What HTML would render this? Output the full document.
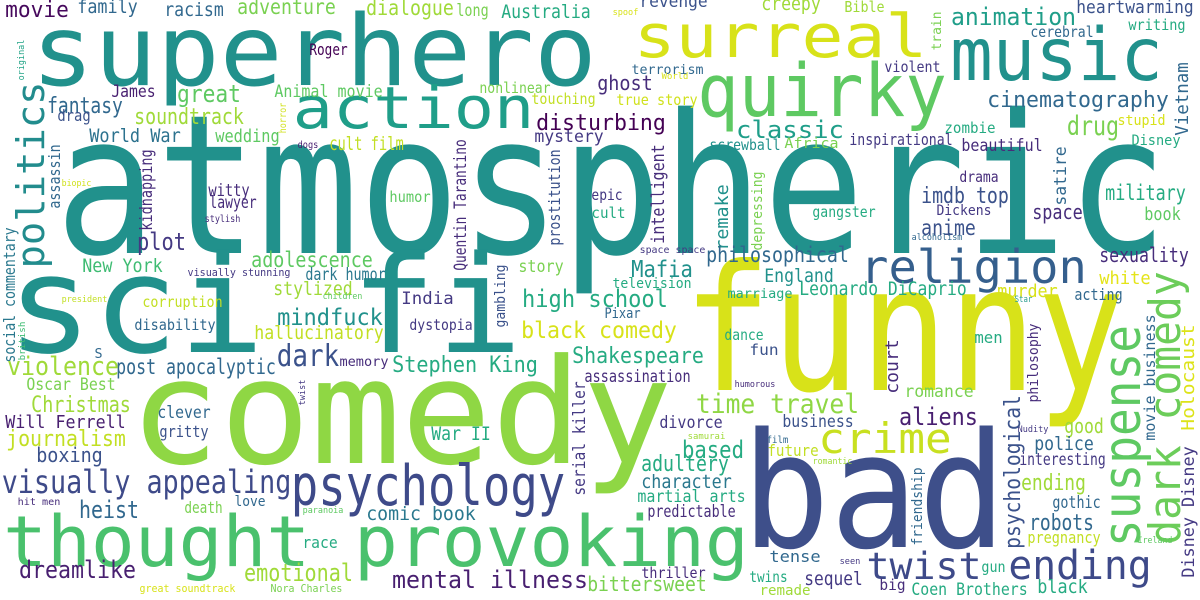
<!DOCTYPE html>
<html><head><meta charset="utf-8"><style>
html,body{margin:0;padding:0;background:#fff;}
svg{display:block;}
text{font-family:"DejaVu Sans Mono","Liberation Mono",monospace;}
</style></head><body>
<svg id="cloud" width="1200" height="600" viewBox="0 0 1200 600" xmlns="http://www.w3.org/2000/svg">
<rect width="1200" height="600" fill="#ffffff"/>
</svg>
<script>
// [word, x, baseline, inkLength, fontSize, color, vertical]
const terms = [
["atmospheric",63,253,1097,194,"#21918c",0],
["superhero",35,85,558,98,"#21918c",0],
["sci fi",12,352,505,135,"#21918c",0],
["comedy",135,463,532,146,"#8fd744",0],
["funny",690,390,428,175,"#d8e219",0],
["bad",748,547,252,160,"#3e4f8a",0],
["thought provoking",6,566,740,70,"#4ac16d",0],
["psychology",293,505,270,56,"#3e4a89",0],
["surreal",636,57,289,60,"#d8e219",0],
["quirky",700,116,244,73,"#5ec962",0],
["music",953,80,207,73,"#21918c",0],
["action",295,128,237,58,"#1f9e89",0],
["religion",862,283,223,46,"#355f8d",0],
["crime",820,453,130,42,"#c8e020",0],
["twist",868,579,112,37,"#3e4a89",0],
["ending",1010,579,140,40,"#3e4a89",0],
["visually appealing",3,493,287,32,"#3e4a89",0],
["politics",44,267,184,38,"#228c8d",1],
["suspense",1140,545,218,52,"#5ec962",1],
["dark comedy",1180,543,270,44,"#6ccd5a",1],
["movie",6,17,62,22,"#46085c",0],
["family",78,13,59,19,"#31688e",0],
["racism",165,16,58,19,"#31688e",0],
["adventure",238,14,97,21,"#7ad151",0],
["dialogue",367,15,86,21,"#a0da39",0],
["long",457,16,31,17,"#7ad151",0],
["Australia",502,18,88,19,"#25ab82",0],
["spoof",613,15,25,9,"#d8e219",0],
["revenge",640,7,67,17,"#3b528b",0],
["creepy",762,10,58,19,"#a0da39",0],
["Bible",845,12,39,15,"#a0da39",0],
["animation",952,25,123,24,"#1f9e89",0],
["heartwarming",1077,13,116,18,"#3b528b",0],
["writing",1129,30,56,15,"#25ab82",0],
["cerebral",1031,37,62,15,"#31688e",0],
["train",941,50,38,13,"#7ad151",1],
["original",24,80,40,9,"#20a386",1],
["Roger",310,55,37,16,"#440154",0],
["violent",885,72,55,15,"#443983",0],
["terrorism",632,74,71,13,"#31688e",0],
["World",662,79,26,9,"#d8e219",0],
["ghost",598,90,54,20,"#472d7b",0],
["nonlinear",480,93,70,15,"#7ad151",0],
["James",112,97,43,17,"#481f70",0],
["Animal movie",275,97,107,17,"#5ec962",0],
["great",178,102,62,24,"#5ec962",0],
["touching",532,104,63,15,"#c2df23",0],
["true story",617,105,80,15,"#d0e11c",0],
["cinematography",988,107,180,22,"#31688e",0],
["fantasy",48,113,74,22,"#31688e",0],
["drag",58,121,32,16,"#3b528b",0],
["soundtrack",135,124,108,22,"#a0da39",0],
["stupid",1118,125,47,14,"#d8e219",0],
["disturbing",537,130,128,22,"#440154",0],
["horror",286,133,30,10,"#d0e11c",1],
["zombie",945,133,50,15,"#25ab82",0],
["Vietnam",1188,135,72,18,"#31688e",1],
["drug",1068,135,50,27,"#7ad151",0],
["classic",737,138,106,24,"#1f9e89",0],
["World War",90,142,90,19,"#2c728e",0],
["wedding",216,142,63,18,"#5ec962",0],
["mystery",535,142,68,17,"#443983",0],
["inspirational",850,145,102,16,"#443983",0],
["Disney",1132,145,48,14,"#25ab82",0],
["dogs",298,148,20,10,"#481f70",0],
["Africa",785,148,53,14,"#7ad151",0],
["cult film",330,150,73,19,"#c2df23",0],
["screwball",710,150,70,15,"#21918c",0],
["beautiful",962,151,80,17,"#472d7b",0],
["assassin",60,208,63,16,"#31688e",1],
["kidnapping",152,230,80,17,"#472d7b",1],
["Quentin Tarantino",466,270,130,17,"#472d7b",1],
["prostitution",560,245,95,16,"#3b528b",1],
["intelligent",664,243,98,18,"#472d7b",1],
["remake",728,250,65,18,"#21918c",1],
["depressing",762,250,78,14,"#7ad151",1],
["satire",1066,205,58,17,"#31688e",1],
["drama",960,182,38,15,"#472d7b",0],
["biopic",62,186,29,9,"#d0e11c",0],
["witty",209,196,40,17,"#472d7b",0],
["epic",592,200,30,15,"#443983",0],
["military",1106,200,79,21,"#25ab82",0],
["humor",390,202,40,15,"#5ec962",0],
["imdb top",922,203,86,22,"#3b528b",0],
["lawyer",210,208,46,17,"#472d7b",0],
["Dickens",937,215,54,14,"#443983",0],
["gangster",813,217,62,15,"#25ab82",0],
["cult",592,218,33,15,"#25ab82",0],
["space",1033,219,49,20,"#472d7b",0],
["book",1145,220,35,18,"#5ec962",0],
["stylish",205,222,35,10,"#472d7b",0],
["anime",922,235,53,21,"#3b528b",0],
["alcoholism",912,240,50,9,"#31688e",0],
["plot",138,250,47,24,"#443983",0],
["space space",640,253,65,10,"#443983",0],
["philosophical",707,262,141,21,"#31688e",0],
["sexuality",1100,262,88,20,"#472d7b",0],
["adolescence",252,267,120,21,"#5ec962",0],
["social commentary",15,362,134,16,"#2a788e",1],
["New York",83,272,79,19,"#3fbc73",0],
["story",519,272,44,17,"#7ad151",0],
["visually stunning",188,276,102,11,"#443983",0],
["Mafia",632,277,60,23,"#21918c",0],
["dark humor",306,280,79,17,"#2a788e",0],
["England",765,282,68,19,"#21918c",0],
["white",1100,284,50,18,"#e4e419",0],
["television",613,288,78,14,"#25ab82",0],
["stylized",274,295,78,19,"#a0da39",0],
["Leonardo DiCaprio",800,295,166,19,"#25ab82",0],
["murder",998,297,59,18,"#d8e219",0],
["marriage",728,298,64,13,"#25ab82",0],
["children",323,299,39,9,"#5ec962",0],
["acting",1075,300,47,16,"#31688e",0],
["Star",1015,302,17,9,"#2a9d8f",0],
["president",62,302,45,9,"#c2df23",0],
["India",402,304,51,17,"#443983",0],
["high school",523,307,144,24,"#25ab82",0],
["corruption",143,307,79,15,"#c2df23",0],
["Pixar",605,318,35,14,"#31688e",0],
["mindfuck",278,325,104,23,"#21918c",0],
["gambling",505,327,62,14,"#3b528b",1],
["disability",135,330,80,15,"#31688e",0],
["dystopia",410,330,62,15,"#443983",0],
["black comedy",522,338,154,23,"#d8e219",0],
["hallucinatory",255,339,128,19,"#c2df23",0],
["dance",725,340,38,15,"#25ab82",0],
["men",975,343,27,16,"#25ab82",0],
["fun",750,355,28,15,"#3b528b",0],
["british",25,360,38,9,"#3fbc73",1],
["S",95,358,7,13,"#31688e",0],
["Shakespeare",573,363,130,22,"#25ab82",0],
["dark",278,366,60,30,"#3b528b",0],
["memory",340,366,48,13,"#472d7b",0],
["Stephen King",393,372,144,22,"#25ab82",0],
["post apocalyptic",117,374,158,21,"#31688e",0],
["violence",8,375,110,26,"#a0da39",0],
["assassination",585,382,105,17,"#472d7b",0],
["humorous",735,387,40,9,"#472d7b",0],
["Oscar Best",27,390,88,17,"#7ad151",0],
["court",898,393,53,18,"#472d7b",1],
["romance",905,397,68,17,"#7ad151",0],
["philosophy",1038,402,78,14,"#472d7b",1],
["twist",305,405,25,9,"#443983",1],
["Christmas",32,412,98,22,"#a0da39",0],
["time travel",697,413,161,27,"#8fd744",0],
["clever",158,418,52,17,"#31688e",0],
["aliens",900,425,77,24,"#481f70",0],
["business",783,427,70,17,"#3b528b",0],
["divorce",660,428,62,17,"#443983",0],
["Will Ferrell",6,428,119,18,"#481f70",0],
["Holocaust",1194,430,105,18,"#dde318",1],
["Nudity",1018,432,30,9,"#443983",0],
["good",1065,433,38,20,"#a0da39",0],
["gritty",160,437,48,16,"#3b528b",0],
["samurai",688,439,37,9,"#a0da39",0],
["War II",432,440,58,19,"#25ab82",0],
["movie business",1155,440,125,15,"#31688e",1],
["film",767,443,21,10,"#31688e",0],
["journalism",7,446,118,22,"#c2df23",0],
["police",1035,450,58,19,"#31688e",0],
["future",768,456,50,16,"#c2df23",0],
["based",683,458,60,24,"#25ab82",0],
["boxing",37,462,65,20,"#3b528b",0],
["romantic",813,464,39,9,"#a0da39",0],
["interesting",1020,465,85,17,"#443983",0],
["adultery",642,471,86,22,"#25ab82",0],
["character",642,488,89,19,"#2a788e",0],
["ending",1022,490,63,22,"#a0da39",0],
["serial killer",585,495,113,17,"#443983",1],
["martial arts",638,502,107,17,"#25ab82",0],
["hit men",18,505,42,10,"#472d7b",0],
["love",235,506,30,14,"#31688e",0],
["gothic",1053,508,47,17,"#31688e",0],
["death",185,513,37,16,"#7ad151",0],
["paranoia",303,513,40,9,"#5ec962",0],
["predictable",648,517,87,17,"#472d7b",0],
["heist",80,518,58,24,"#31688e",0],
["comic book",367,520,108,19,"#2a788e",0],
["robots",1030,530,63,22,"#31688e",0],
["pregnancy",1028,543,72,16,"#c2df23",0],
["Ireland",1138,543,34,9,"#5ec962",0],
["friendship",922,545,77,14,"#31688e",1],
["psychological",1020,548,152,22,"#3b528b",1],
["race",303,548,34,16,"#25ab82",0],
["tense",770,562,50,16,"#31688e",0],
["seen",840,564,20,9,"#443983",0],
["gun",982,572,23,15,"#25ab82",0],
["Disney Disney",1194,577,130,17,"#443983",1],
["dreamlike",20,578,115,24,"#481f70",0],
["thriller",642,578,63,15,"#472d7b",0],
["emotional",245,581,107,24,"#a0da39",0],
["twins",750,582,37,15,"#25ab82",0],
["sequel",805,585,57,19,"#443983",0],
["mental illness",393,588,194,24,"#481f70",0],
["big",880,590,25,15,"#472d7b",0],
["bittersweet",588,591,118,20,"#7ad151",0],
["great soundtrack",140,592,95,11,"#d8e219",0],
["Nora Charles",271,592,71,11,"#7ad151",0],
["black",1038,593,49,19,"#25ab82",0],
["Coen Brothers",912,595,115,17,"#25ab82",0],
["remade",760,595,50,14,"#a0da39",0]
];
const svg = document.getElementById('cloud');
const NS = 'http://www.w3.org/2000/svg';
for (const t of terms) {
  const [word, x, y, len, fs, color, vert] = t;
  const el = document.createElementNS(NS, 'text');
  const pad = 0.04 * fs;
  el.setAttribute('font-size', fs);
  el.setAttribute('fill', color);
  el.setAttribute('textLength', len + 2 * pad);
  el.setAttribute('lengthAdjust', 'spacingAndGlyphs');
  if (vert) {
    el.setAttribute('x', x);
    el.setAttribute('y', y + pad);
    el.setAttribute('transform', 'rotate(-90 ' + x + ' ' + (y + pad) + ')');
  } else {
    el.setAttribute('x', x - pad);
    el.setAttribute('y', y);
  }
  el.textContent = word;
  
  
  svg.appendChild(el);
}
</script>
</body></html>
